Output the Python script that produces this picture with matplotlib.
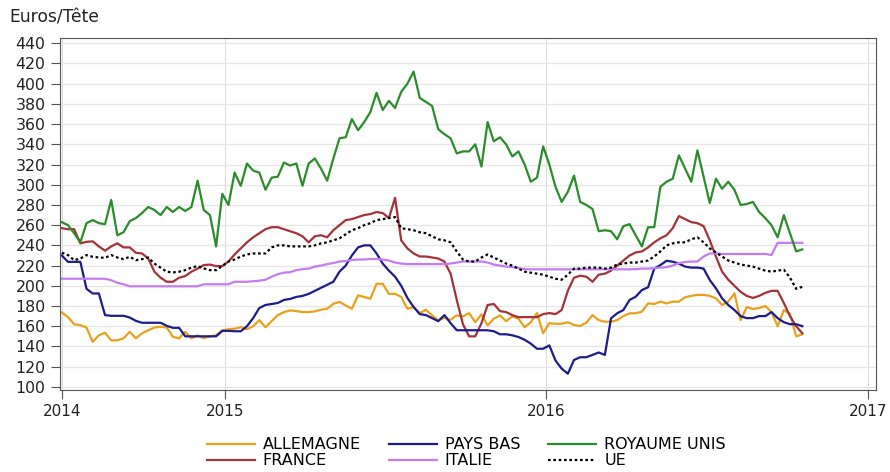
import matplotlib
matplotlib.use("Agg")
import matplotlib.pyplot as plt
import numpy as np

# prix hebdomadaires (euros / tete), une valeur par semaine
allemagne = [173.6, 169, 162, 161, 158.7, 144.5, 151, 153.5, 146, 146, 148, 154.5, 148, 153, 156, 158.7,
             159.4, 158.7, 149.5, 148, 154.5, 148, 151, 148, 150, 151, 156, 157,
             157.5, 159, 157, 160, 166, 159, 165, 171, 174, 175.6, 175, 174, 174, 174.7, 176.3, 177.3,
             182.2, 184, 180.6, 177.3, 190.5, 189, 187.2, 202, 202, 192, 192, 189,
             177.3, 179, 173, 176.3, 170.7, 165.8, 168.4, 166.4, 170.7, 169.7, 173, 164, 171.7, 160.8,
             167.4, 170.7, 165, 169.7, 167.4, 159, 164, 173, 153, 163, 162.4, 162.4, 164,
             161.2, 160.2, 163.5, 171, 166, 164.5, 164.5, 166, 170, 172.8, 172.8, 174.4, 182.6, 182,
             184.3, 182.6, 184.3, 184.3, 188.6, 190, 191, 191, 190, 187.6, 181, 184.3, 192.5,
             166, 179, 177, 178, 180, 174, 160, 176, 172, 150, 152]

france = [257, 256, 256, 242, 243.5, 244, 239, 234.7, 239, 242, 238, 238, 232.7, 232, 227, 214,
          208, 204, 204, 208, 209.6, 214, 217, 220.5, 221, 219.5, 219.5, 224,
          231, 237, 243, 248, 252, 256, 258, 258, 256, 254, 252, 249, 243, 249, 250, 248,
          255, 260, 265, 266, 268, 270, 271, 273, 272, 267, 287, 245,
          237, 232, 229, 229, 228, 227, 224, 212, 186, 162, 150, 150, 163, 181, 182, 175, 174,
          171, 169, 169, 169, 169, 172, 173, 172, 176, 195,
          208, 210, 209, 204, 211, 212, 215, 220, 225, 230, 233, 234, 238, 243, 247, 250, 257,
          269, 266, 263, 262, 259, 245, 229, 214, 206, 200,
          194, 190, 188, 190, 193, 195, 195, 183, 170, 160, 153]

pays_bas = [230, 223.7, 223.7, 223.7, 197, 192.4, 192.4, 171, 170.3, 170.3, 170.3, 168.6, 165.3, 163.4,
            163.4, 163.4, 163.4, 160.4, 158.4, 158.4, 150, 150, 150, 150, 150, 150, 155.4, 155.4,
            155, 155, 160, 168, 178, 181, 182, 183, 186, 187, 189, 190, 192, 195, 198, 201,
            204, 214, 220, 230, 238, 240, 240, 232, 222, 215, 209, 200,
            188, 179, 172, 171, 168, 165, 171, 163, 156, 156, 156, 156, 156, 156, 155, 152, 152,
            151, 149.3, 146.6, 142.7, 137.7, 137.7, 141, 126, 118, 113,
            126.6, 129.3, 129.3, 131.6, 134, 131.6, 167.8, 172.8, 176, 186, 189.2, 195.8, 198.5,
            217, 220.5, 224.8, 223.8, 222, 219, 218, 218, 217, 205.7, 197.5, 187.6, 181, 176,
            170, 168, 168, 170, 170, 174, 168, 164, 162, 162, 160]

italie = [207] * 8 + [205.5, 203, 201.5] + [199.5] * 12 + [201.5] * 5 + \
         [204, 204, 204, 204.5, 205, 206, 209, 211.5, 213, 213.5, 215.5, 216.5, 217, 219, 220,
          221.5, 222.5, 224, 224.5, 225.5, 226, 226, 226.5, 226.5, 226, 225, 223, 222] + \
         [221.5] * 7 + [222, 223, 224, 224, 224, 224, 223, 221, 220, 219, 218.5, 217.5, 216.5] + \
         [216.3] * 17 + [216.5, 217, 217, 217.5, 218, 218.5, 220, 222.5, 223.5, 224, 224,
                         229, 232, 232] + [231.5] * 8 + [230.5] + [242.5] * 5

royaume_unis = [263, 260, 252, 243, 262, 265, 262, 261, 285, 250, 253, 264, 267, 272, 278, 275,
                270, 278, 273, 278, 274, 278, 304, 275, 270, 239, 291, 280,
                312, 299, 321, 314, 312, 295, 307, 308, 322, 319, 321, 299, 321, 326, 316, 304,
                326, 346, 347, 365, 354, 362, 372, 391, 374, 383, 376, 392,
                400, 412, 386, 382, 378, 355, 350, 346, 331, 333, 333, 340, 318, 362, 343, 347, 340,
                328, 333, 320, 303, 307, 338, 320, 298, 283, 293,
                309, 283, 280, 276, 254, 255, 254, 246, 259, 261, 250, 239, 258, 258, 298, 303, 306,
                329, 316, 303, 334, 308, 282, 306, 296, 303, 295,
                280, 281, 283, 273, 267, 260, 248, 270, 252, 234, 236]

ue = [232.7, 230.4, 225.4, 227, 230.4, 228.7, 228, 227.7, 230.4, 228, 226.4, 228.7, 225.4, 226.4,
      228, 222, 218, 213.9, 213.2, 213.9, 215.5, 218, 219.5, 217.2, 215.5, 215.5, 219.5, 224,
      226, 229, 231, 232, 232, 232, 238, 240, 240, 239, 239, 239, 239, 240, 242, 243,
      245, 247, 251, 255, 257, 260, 262, 265, 266, 267, 268, 257,
      256, 255, 253, 252, 249, 246, 245, 243, 234, 226, 224, 224, 228, 231, 228, 225, 222,
      220, 217, 214, 213, 212, 211, 209, 207, 206, 211,
      217, 217, 218, 218, 218, 217, 218, 221, 222, 223, 223, 224, 225, 229, 234, 240, 242,
      243, 243, 246, 248, 243, 237, 233, 229, 225, 223,
      221, 220, 219, 217, 215, 214, 215, 216, 208, 197, 199]

annees = ['2014', '2015', '2016', '2017']
pos_annees = [0, 26.4, 78.5, 130.6]

fig = plt.figure(figsize=(8.9, 4.72), dpi=100)
ax = fig.add_axes([0.0674, 0.174, 0.9166, 0.745])

x = np.arange(len(ue))
ax.plot(x, allemagne, color='#E8A11A', lw=1.6, label='ALLEMAGNE')
ax.plot(x, france, color='#A3323A', lw=1.6, label='FRANCE')
ax.plot(x, pays_bas, color='#1C1C8C', lw=1.6, label='PAYS BAS')
ax.plot(x, italie, color='#C47CF0', lw=1.6, label='ITALIE')
ax.plot(x, royaume_unis, color='#2A8C2A', lw=1.6, label='ROYAUME UNIS')
ax.plot(x, ue, color='black', lw=1.6, ls=(0, (1.2, 1.2)), label='UE')

ax.set_ylim(97, 445)
ax.set_yticks(range(100, 441, 20))
ax.set_xlim(-0.3, 131.9)
ax.set_xticks(pos_annees)
ax.set_xticklabels(annees)
ax.grid(axis='y', color='#E6E6E6', lw=1)
ax.grid(axis='x', color='#DCDCDC', lw=0.8)
ax.set_axisbelow(True)
for s in ax.spines.values():
    s.set_color('#555555')
ax.tick_params(axis='both', colors='#222222', color='#555555', length=6.5)
ax.tick_params(axis='y', labelsize=11.3, pad=4)
ax.tick_params(axis='x', labelsize=11, pad=4)

fig.text(0.011, 0.952, 'Euros/Tête', fontsize=12.3, color='#222222')

ax.legend(ncol=3, loc='upper center', bbox_to_anchor=(0.524, 0.097), bbox_transform=fig.transFigure,
          frameon=False, fontsize=11.5, handlelength=3.0, columnspacing=1.75, labelspacing=0.05,
          handletextpad=0.5, borderpad=0.2)

fig.savefig('out.png', dpi=100)
